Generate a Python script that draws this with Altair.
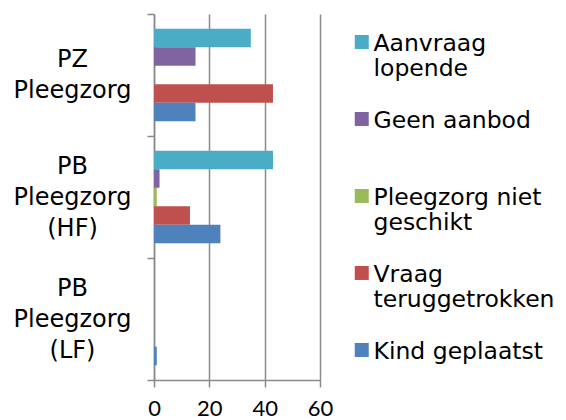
import altair as alt
import pandas as pd

categories = ["PZ|Pleegzorg", "PB|Pleegzorg|(HF)", "PB|Pleegzorg|(LF)"]
series = ["Aanvraag|lopende", "Geen aanbod", "Pleegzorg niet|geschikt",
          "Vraag|teruggetrokken", "Kind geplaatst"]
colors = ["#4BACC6", "#8064A2", "#9BBB59", "#C0504D", "#4F81BD"]

aanvraag_lopende = [35, 43, 0]
geen_aanbod = [15, 2, 0]
pleegzorg_niet_geschikt = [0, 1, 0]
vraag_teruggetrokken = [43, 13, 0]
kind_geplaatst = [15, 24, 1]

x_ticks = [0, 20, 40, 60]

series_values = [aanvraag_lopende, geen_aanbod, pleegzorg_niet_geschikt,
                 vraag_teruggetrokken, kind_geplaatst]
rows = []
for s, vals in zip(series, series_values):
    for c, v in zip(categories, vals):
        rows.append({"cat": c, "series": s, "value": v})
df = pd.DataFrame(rows)

grey = "#8a8a8a"

chart = alt.Chart(df).mark_bar().encode(
    y=alt.Y("cat:N", sort=categories,
            scale=alt.Scale(paddingInner=0, paddingOuter=0),
            axis=alt.Axis(title=None, tickBand="extent",
                          labelExpr="split(datum.label, '|')",
                          labelAlign="center", labelBaseline="middle",
                          labelPadding=75, tickSize=7,
                          labelOffset={"condition": {"test": "datum.value == 'PZ|Pleegzorg'",
                                                     "value": -16},
                                       "value": -31},
                          labelFont="DejaVu Sans", labelFontSize=24,
                          labelLineHeight=31, labelColor="black",
                          domainColor=grey, tickColor=grey,
                          domainWidth=1.5, tickWidth=1.5, grid=False)),
    yOffset=alt.YOffset("series:N", sort=series,
                        scale=alt.Scale(paddingOuter=0.8, paddingInner=0)),
    x=alt.X("value:Q", scale=alt.Scale(domain=[0, 60], nice=False),
            axis=alt.Axis(title=None, values=x_ticks, tickSize=7,
                          grid=True, gridColor=grey, gridWidth=1.5,
                          domainColor=grey, tickColor=grey,
                          domainWidth=1.5, tickWidth=1.5,
                          labelFont="Lato", labelFontSize=22,
                          labelColor="black", labelPadding=11,
                          labelFlush=False)),
    color=alt.Color("series:N", sort=series,
                    scale=alt.Scale(domain=series, range=colors),
                    legend=alt.Legend(title=None, orient="none",
                                      legendX=196, legendY=6,
                                      labelExpr="split(datum.label, '|')",
                                      labelBaseline="top",
                                      symbolType="M-1,0.46H1V2.46H-1Z",
                                      symbolSize=196, symbolStrokeWidth=0,
                                      labelFont="DejaVu Sans", labelFontSize=23.5,
                                      labelColor="black", labelOffset=0,
                                      gridAlign="all", rowPadding=16,
                                      labelLimit=300)),
).properties(
    width=166, height=366,
    autosize=alt.AutoSizeParams(type="none"),
    padding={"left": 146, "top": 6, "right": 238, "bottom": 42},
).configure_view(stroke=None)

chart.save("out.html", embed_options={"renderer": "svg", "actions": False})
